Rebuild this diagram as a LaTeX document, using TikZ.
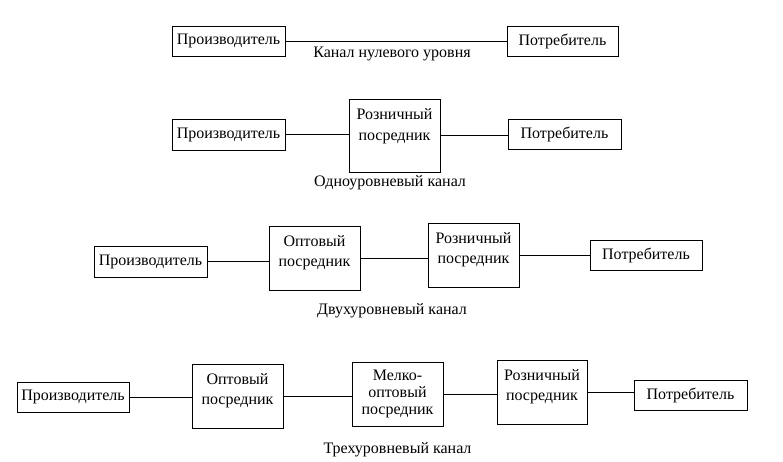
\documentclass[tikz,border=0pt]{standalone}
\usepackage{fontspec}
\setmainfont{Liberation Serif}

\begin{document}
\begin{tikzpicture}[x=1pt, y=-1pt, line width=1pt,
    every node/.style={font=\fontsize{16}{20}\selectfont},
    box/.style={draw, minimum width=113, minimum height=30, inner sep=0},
    mid/.style={draw, minimum width=91, minimum height=64, inner sep=0},
    top/.style={anchor=north, align=center, inner sep=0, yshift=-10},
    caption/.style={anchor=base}]
      \useasboundingbox (0,0) rectangle (783,461);
      % zero level
      \node[box] (p1) at (228.5,41) {Производитель};
      \node[box, minimum width=111] (c1) at (562.5,41) {Потребитель};
      \node[caption] (l1) at (392,57) {Канал нулевого уровня};
      % one level
      \node[box, minimum height=31] (p2) at (228.5,134.5) {Производитель};
      \node[mid, minimum height=73, label={[top, font=\fontsize{16}{21}\selectfont]north:Розничный\\посредник}] (r2) at (394.5,135.5) {};
      \node[box] (c2) at (564.5,134) {Потребитель};
      \node[caption] (l2) at (390,186.5) {Одноуровневый канал};
      % two levels
      \node[box, minimum height=31] (p3) at (150.5,261.5) {Производитель};
      \node[mid, label={[top]north:Оптовый\\посредник}] (o3) at (314.5,258) {};
      \node[mid, label={[top]north:Розничный\\посредник}] (r3) at (473.5,255) {};
      \node[box, minimum width=112] (c3) at (646,255) {Потребитель};
      \node[caption] (l3) at (392,314) {Двухуровневый канал};
      % three levels
      \node[box, minimum width=112] (p4) at (73,397) {Производитель};
      \node[mid, label={[top]north:Оптовый\\посредник}] (o4) at (237.5,396) {};
      \node[mid, label={[top, yshift=2, font=\fontsize{16}{17}\selectfont]north:Мелко-\\оптовый\\посредник}] (m4) at (397.5,394) {};
      \node[mid, minimum width=90, label={[top]north:Розничный\\посредник}] (r4) at (542,392) {};
      \node[box] (c4) at (690.5,395) {Потребитель};
      \node[caption] (l4) at (397.5,453) {Трехуровневый канал};
      \foreach \a/\b in {p1/c1, p2/r2, r2/c2, p3/o3, o3/r3, r3/c3, p4/o4, o4/m4, m4/r4, r4/c4}
        \draw (\a) -- (\a -| \b.west);
\end{tikzpicture}
\end{document}
